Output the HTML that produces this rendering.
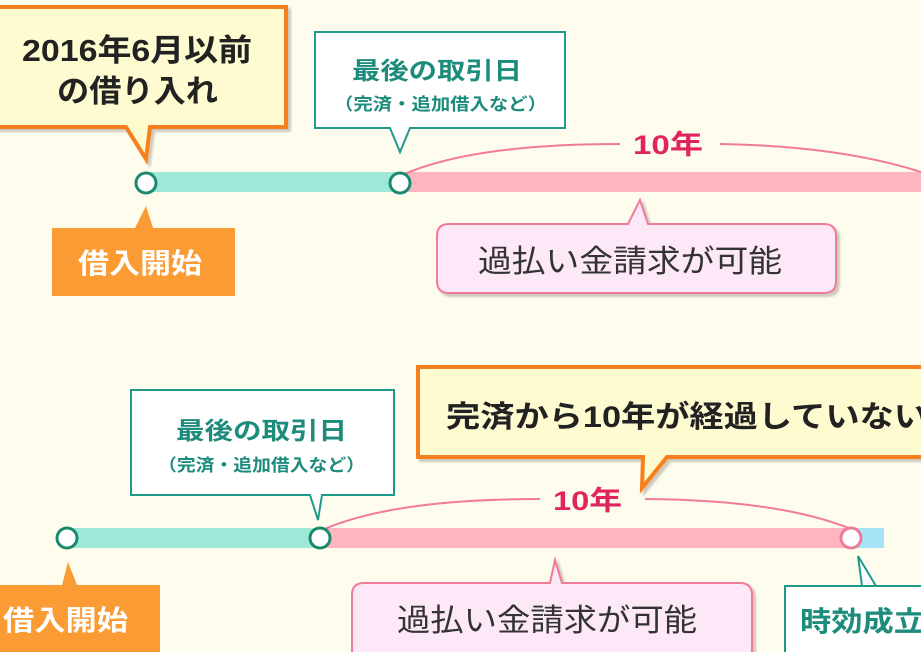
<!DOCTYPE html>
<html><head><meta charset="utf-8"><style>
html,body{margin:0;padding:0;background:#fefcec;}
svg{display:block;}
text{font-family:"Liberation Sans","Noto Sans CJK JP",sans-serif;}
</style></head><body>
<svg width="921" height="652" viewBox="0 0 921 652" xmlns="http://www.w3.org/2000/svg">
<rect width="921" height="652" fill="#fefcec"/>
<defs><filter id="sh" x="-10%" y="-10%" width="130%" height="140%"><feDropShadow dx="3" dy="3" stdDeviation="1" flood-color="#000" flood-opacity="0.2"/></filter></defs>

<!-- TOP -->
<path d="M-5,7 H286 V127 H150 L146,159 L126,127 H-5 Z" fill="#fffbd0" stroke="#f97f1b" stroke-width="4" filter="url(#sh)"/>
<text x="22" y="61" font-size="31" font-weight="bold" fill="#222" textLength="230" lengthAdjust="spacingAndGlyphs">2016年6月以前</text>
<text x="57" y="102" font-size="31" font-weight="bold" fill="#222" textLength="161" lengthAdjust="spacingAndGlyphs">の借り入れ</text>

<path d="M315,32 H565 V128 H410 L400,152 L390,128 H315 Z" fill="#fff" stroke="#1f9a8a" stroke-width="2"/>
<text x="352" y="79" font-size="24" font-weight="bold" fill="#1e8c7c" textLength="170" lengthAdjust="spacingAndGlyphs">最後の取引日</text>
<text x="334" y="110" font-size="17" font-weight="bold" fill="#1e8c7c" textLength="213" lengthAdjust="spacingAndGlyphs">（完済・追加借入など）</text>

<rect x="146" y="172" width="254" height="20" fill="#9de8d7"/>
<rect x="400" y="172" width="521" height="20" fill="#ffb5bf"/>
<path d="M400,176 Q470,144 620,144" fill="none" stroke="#f07a9a" stroke-width="2"/>
<path d="M720,144 Q840,146 921,172" fill="none" stroke="#f07a9a" stroke-width="2"/>
<text x="633" y="154" font-size="27" font-weight="bold" fill="#e0245e" textLength="70" lengthAdjust="spacingAndGlyphs">10年</text>
<circle cx="146" cy="183" r="10" fill="#fff" stroke="#1a8a6e" stroke-width="3"/>
<circle cx="400" cy="183" r="10" fill="#fff" stroke="#1a8a6e" stroke-width="3"/>

<path d="M52,228 H135 L146,206 L153,228 H235 V296 H52 Z" fill="#fb9b34"/>
<text x="78" y="273" font-size="28" font-weight="bold" fill="#fff" textLength="124" lengthAdjust="spacingAndGlyphs">借入開始</text>

<path d="M449,224 H628 L640,200 L648,224 H824 Q836,224 836,236 V281 Q836,293 824,293 H449 Q437,293 437,281 V236 Q437,224 449,224 Z" fill="#fde8f7" stroke="#f07a9a" stroke-width="2" filter="url(#sh)"/>
<text x="478" y="272" font-size="31" fill="#333" textLength="304" lengthAdjust="spacingAndGlyphs">過払い金請求が可能</text>

<!-- BOTTOM -->
<path d="M418,367 H930 V457 H667 L642,488 L643,457 H418 Z" fill="#fffbd0" stroke="#f97f1b" stroke-width="4" filter="url(#sh)"/>
<text x="446" y="427" font-size="30" font-weight="bold" fill="#222" textLength="482" lengthAdjust="spacingAndGlyphs">完済から10年が経過していない</text>

<path d="M131,390 H394 V495 H322 L318,520 L310,495 H131 Z" fill="#fff" stroke="#1f9a8a" stroke-width="2"/>
<text x="176" y="439" font-size="24" font-weight="bold" fill="#1e8c7c" textLength="171" lengthAdjust="spacingAndGlyphs">最後の取引日</text>
<text x="158" y="471" font-size="17" font-weight="bold" fill="#1e8c7c" textLength="207" lengthAdjust="spacingAndGlyphs">（完済・追加借入など）</text>

<rect x="67" y="528" width="253" height="20" fill="#9de8d7"/>
<rect x="320" y="528" width="531" height="20" fill="#ffb5bf"/>
<rect x="851" y="528" width="33" height="20" fill="#a8e4f8"/>
<path d="M320,531 Q390,499 540,499" fill="none" stroke="#f07a9a" stroke-width="2"/>
<path d="M645,499 Q780,500 851,529" fill="none" stroke="#f07a9a" stroke-width="2"/>
<text x="553" y="510" font-size="27" font-weight="bold" fill="#e0245e" textLength="69" lengthAdjust="spacingAndGlyphs">10年</text>
<circle cx="67" cy="538" r="10" fill="#fff" stroke="#1a8a6e" stroke-width="3"/>
<circle cx="320" cy="538" r="10" fill="#fff" stroke="#1a8a6e" stroke-width="3"/>
<circle cx="851" cy="538" r="10" fill="#fff" stroke="#f07a9a" stroke-width="3"/>

<path d="M0,585 H62 L68,562 L77,585 H160 V660 H0 Z" fill="#fb9b34"/>
<text x="3" y="630" font-size="28" font-weight="bold" fill="#fff" textLength="125" lengthAdjust="spacingAndGlyphs">借入開始</text>

<path d="M364,583 H550 L555,560 L562,583 H740 Q752,583 752,595 V670 H352 V595 Q352,583 364,583 Z" fill="#fde8f7" stroke="#f07a9a" stroke-width="2" filter="url(#sh)"/>
<text x="397" y="631" font-size="31" fill="#333" textLength="300" lengthAdjust="spacingAndGlyphs">過払い金請求が可能</text>

<path d="M785,586 H876 L858,556 L862,586 H930 V670 H785 Z" fill="#fff" stroke="#1f9a8a" stroke-width="2"/>
<text x="800" y="631" font-size="28" font-weight="bold" fill="#1e8c7c" textLength="125" lengthAdjust="spacingAndGlyphs">時効成立</text>
</svg>
</body></html>
